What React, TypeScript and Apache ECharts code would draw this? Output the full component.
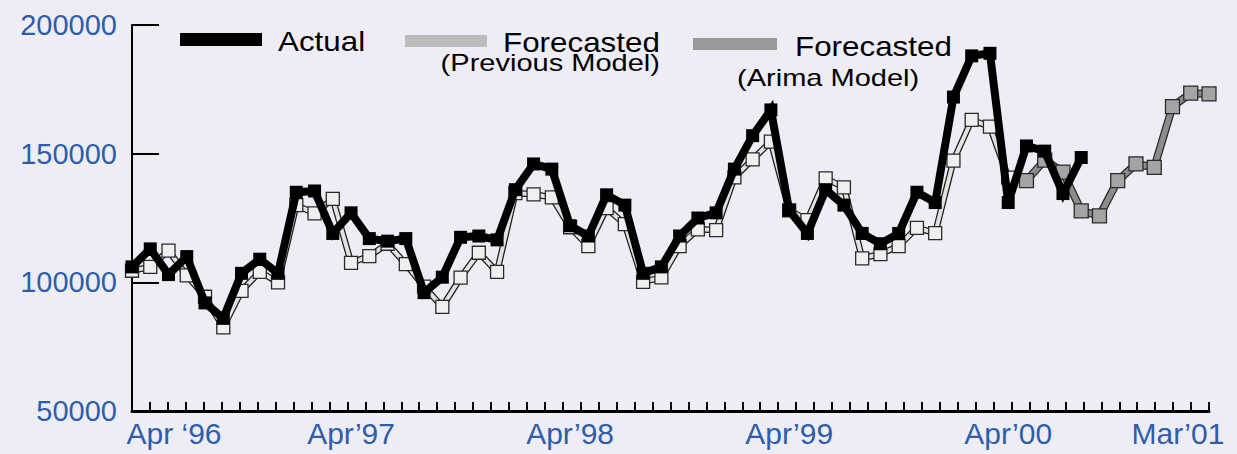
import { useEffect, useRef } from "react";
import * as echarts from "echarts";

// Monthly volumes, index 0 = Apr 1996 ... index 59 = Mar 2001
const actual = [
  106000, 113000, 103000, 110000, 92000, 86000, 103500, 109000, 103500, 135000,
  135500, 119000, 127000, 117000, 116000, 117000, 96000, 102000, 117500, 118000,
  116500, 136000, 146000, 144000, 122000, 118000, 134000, 130000, 103500, 106000,
  118000, 125000, 127000, 144000, 157000, 167000, 128000, 119000, 136000, 130000,
  119000, 115000, 119000, 135000, 131000, 172000, 188000, 189000, 131000, 153000,
  151000, 134500, 148500,
];

const previousModel = [
  104500, 106000, 112300, 102700, 94400, 82500, 96700, 104100, 100000, 130000,
  126800, 132400, 107600, 110200, 115000, 107100, 98300, 90500, 101800, 111500,
  104100, 134700, 134200, 133000, 121400, 114100, 128800, 122600, 100200, 101900,
  114100, 120600, 120300, 140800, 147800, 154700, 128000, 124200, 140400, 136900,
  109300, 111000, 114100, 121200, 119100, 147300, 163100, 160500, 140700,
];

const arimaStartMonth = 49;
const arimaModel = [
  139500, 147500, 142800, 127800, 125800, 139500, 146000, 144700, 168300, 173500,
  173200,
];

const monthCount = 60;
const xTickLabels = ["Apr \u201896", "Apr\u201997", "Apr\u201998", "Apr\u201999", "Apr\u201900", "Mar\u201901"];
const xLabelAt = [2.3, 12, 24, 36, 48, 57.3];

const yMin = 50000;
const yMax = 200000;
const yStep = 50000;

const BG = "#eeedf5";
const LABEL_BLUE = "#2f5dab";
const FONT = "Liberation Sans, Arial, Helvetica, sans-serif";

const toPairs = (vals: number[], start = 0) => vals.map((v, i) => [start + i, v]);

const legendText = (
  text: string,
  x: number,
  y: number,
  size: number,
  stretch: number,
  align: "left" | "right" = "left"
) => ({
  type: "text",
  x,
  y,
  scaleX: stretch,
  style: {
    text,
    fontSize: size,
    fontFamily: FONT,
    fontWeight: "normal",
    fill: "#000",
    textAlign: align,
    textVerticalAlign: "middle",
  },
});

export default function App() {
  const ref = useRef<HTMLDivElement>(null);

  useEffect(() => {
    document.body.style.margin = "0";
    document.body.style.background = BG;
    if (!ref.current) return;
    const chart = echarts.init(ref.current, null, { renderer: "svg" });

    const lastIdx = monthCount - 1;
    // 61 evenly spaced month ticks across the data span
    const tickValues = Array.from({ length: monthCount + 1 }, (_, k) => (k * lastIdx) / monthCount);

    const prevData = toPairs(previousModel);
    const arimaData = toPairs(arimaModel, arimaStartMonth);
    const actualData = toPairs(actual);

    chart.setOption({
      animation: false,
      backgroundColor: BG,
      grid: { left: 132, right: 28, top: 25, bottom: 43, containLabel: false },
      xAxis: {
        type: "value",
        min: 0,
        max: lastIdx,
        splitLine: { show: false },
        axisLine: { show: true, lineStyle: { color: "#000", width: 3 } },
        axisTick: {
          show: true,
          inside: true,
          length: 9,
          customValues: tickValues,
          lineStyle: { color: "#000", width: 2 },
        },
        axisLabel: {
          customValues: xLabelAt,
          formatter: (v: number) => {
            const i = xLabelAt.findIndex((p) => Math.abs(p - v) < 1e-6);
            return i >= 0 ? xTickLabels[i] : "";
          },
          color: LABEL_BLUE,
          fontFamily: FONT,
          fontSize: 30,
          margin: 7,
        },
      },
      yAxis: {
        type: "value",
        min: yMin,
        max: yMax,
        interval: yStep,
        splitLine: { show: false },
        axisLine: { show: true, lineStyle: { color: "#000", width: 2 } },
        axisTick: { show: true, inside: true, length: 27, lineStyle: { color: "#000", width: 2 } },
        axisLabel: {
          formatter: (v: number) => String(v),
          color: LABEL_BLUE,
          fontFamily: FONT,
          fontSize: 29,
          margin: 15,
        },
      },
      graphic: [
        { type: "rect", shape: { x: 180, y: 33, width: 82, height: 13 }, style: { fill: "#000" } },
        legendText("Actual", 278, 41, 28, 1.12),
        { type: "rect", shape: { x: 405, y: 35, width: 82, height: 12 }, style: { fill: "#bcbcbc" } },
        legendText("Forecasted", 503, 42, 28, 1.12),
        legendText("(Previous Model)", 660, 63, 24, 1.21, "right"),
        { type: "rect", shape: { x: 693, y: 38, width: 84, height: 12 }, style: { fill: "#999999" } },
        legendText("Forecasted", 795, 46, 28, 1.12),
        legendText("(Arima Model)", 737, 78, 24, 1.21),
      ],
      series: [
        {
          name: "prevOutline",
          type: "line",
          data: prevData,
          symbol: "none",
          silent: true,
          z: 2,
          lineStyle: { color: "#1c1c1c", width: 6.5 },
        },
        {
          name: "Forecasted (Previous Model)",
          type: "line",
          data: prevData,
          symbol: "rect",
          symbolSize: 13,
          silent: true,
          z: 3,
          lineStyle: { color: "#e2e2e2", width: 4 },
          itemStyle: { color: "#efefef", borderColor: "#2a2a2a", borderWidth: 1.3 },
        },
        {
          name: "arimaOutline",
          type: "line",
          data: arimaData,
          symbol: "none",
          silent: true,
          z: 2,
          lineStyle: { color: "#2a2a2a", width: 8 },
        },
        {
          name: "Forecasted (Arima Model)",
          type: "line",
          data: arimaData,
          symbol: "rect",
          symbolSize: 14,
          silent: true,
          z: 3,
          lineStyle: { color: "#8c8c8c", width: 5.5 },
          itemStyle: { color: "#a4a4a4", borderColor: "#2a2a2a", borderWidth: 1.3 },
        },
        {
          name: "Actual",
          type: "line",
          data: actualData,
          symbol: "rect",
          symbolSize: 13,
          silent: true,
          z: 4,
          lineStyle: { color: "#000", width: 8, join: "miter" },
          itemStyle: { color: "#000" },
        },
      ],
    });

    return () => chart.dispose();
  }, []);

  return <div ref={ref} style={{ width: 1237, height: 454 }} />;
}
